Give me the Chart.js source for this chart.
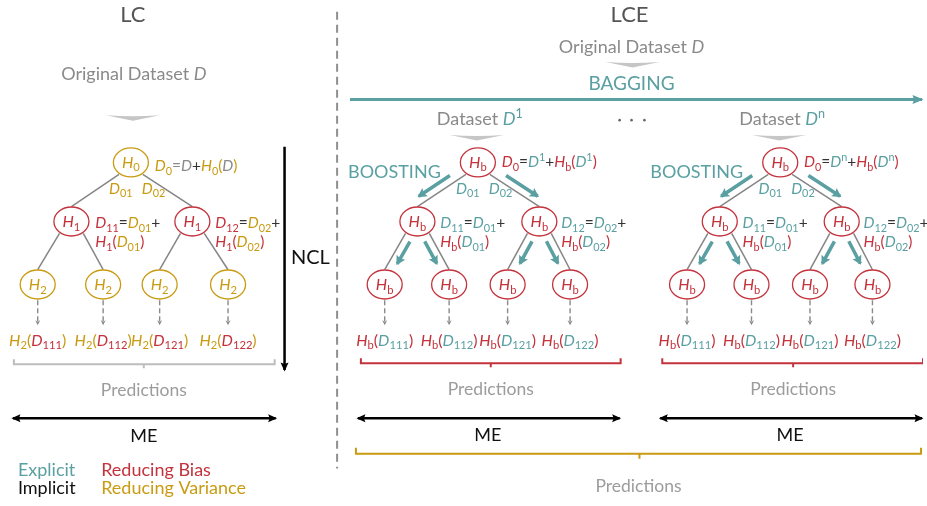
<!DOCTYPE html>
<html>
<head>
<meta charset="utf-8">
<title>LC vs LCE</title>
<script src="https://cdn.jsdelivr.net/npm/chart.js@4.4.0/dist/chart.umd.min.js"></script>
<style>
  html, body { margin: 0; padding: 0; background: #fff; }
  #myChart { display: block; }
</style>
</head>
<body>
<canvas id="myChart" width="927" height="506"></canvas>
<script>
// colours
var TEAL = "#5a9fa1", RED = "#c4323c", GOLD = "#c99b12", GREY = "#8a8a8a", LIGHT = "#9c9c9c", DARK = "#333";
var FONT = "Lato, 'Open Sans', sans-serif";
var MATH = 15.5; // math label size

// tree shape (same for every tree)
var parentOf = [-1, 0, 0, 1, 1, 2, 2];
var levelOf = [0, 1, 1, 2, 2, 2, 2];
var levelY = [161, 221, 285];

// node x positions
var lcNodeX = [128, 68, 190, 34, 100, 157, 226];
var lceNodeX = [478, 417, 540, 384, 449, 508, 571];
var lceShift = [0, 305];

// node names / labels
var lcNodeNames = ["H_0", "H_1", "H_1", "H_2", "H_2", "H_2", "H_2"];
var lcNodeColors = [GOLD, RED, RED, GOLD, GOLD, GOLD, GOLD];
var lceNodeName = "H_b";
var leafSubs = ["111", "112", "121", "122"];
var datasetSups = ["1", "n"];

var datasets = [];
var texts = [];
var chevrons = [];

function addLine(points, color, width, extra) {
  datasets.push(Object.assign({
    data: points, showLine: true, borderColor: color, borderWidth: width,
    pointRadius: 0, fill: false, tension: 0
  }, extra || {}));
}
function addText(x, y, size, align, parts) {
  texts.push({ x: x, y: y, size: size, align: align, parts: parts });
}
function pt(x, y) { return { x: x, y: y }; }

// edges between a parent bottom and a child top
function edgeOf(nodeX, k) {
  var p = parentOf[k];
  var dir = nodeX[k] < nodeX[p] ? -1 : 1;
  return [pt(nodeX[p] + dir * 12, levelY[levelOf[p]] + 12), pt(nodeX[k], levelY[levelOf[k]] - 15)];
}

function addTree(nodeX, names, colors, edgeColor) {
  for (var k = 1; k < nodeX.length; k++) {
    addLine(edgeOf(nodeX, k), edgeColor, 1.5);
  }
  // dashed arrows leaf -> prediction
  for (var k = 3; k < nodeX.length; k++) {
    addLine([pt(nodeX[k], 301), pt(nodeX[k], 325)], GREY, 1.4,
      { borderDash: [5, 3], arrow: "end", headLen: 5, headW: 5 });
  }
  datasets.push({
    data: nodeX.map(function (x, k) { return pt(x, levelY[levelOf[k]]); }),
    pointRadius: 0, showLine: false, nodeNames: names, nodeColors: colors
  });
}

// ---------- separator ----------
addLine([pt(336, 8), pt(336, 472)], "#8f8f8f", 2, { borderDash: [8, 5] });

// ---------- LC ----------
addText(130, 18, 22, "center", [["#555", "LC", 1]]);
addText(131, 77, 18, "center", [[GREY, "Original Dataset ", 1], [GREY, "D"]]);
chevrons.push(pt(130, 113));
addTree(lcNodeX, lcNodeNames, lcNodeColors, "#858585");
addText(152, 170, MATH, "left", [[GOLD, "D_0"], [GREY, "=D"], [DARK, "+"], [GOLD, "H_0("], [GREY, "D"], [GOLD, ")"]]);
addText(106, 193, MATH, "left", [[GOLD, "D_{01}"]]);
addText(139, 193, MATH, "left", [[GOLD, "D_{02}"]]);
addText(92, 228, MATH, "left", [[RED, "D_{11}"], [DARK, "="], [GOLD, "D_{01}"], [DARK, "+"]]);
addText(92, 247, MATH, "left", [[RED, "H_1("], [GOLD, "D_{01}"], [RED, ")"]]);
addText(213, 228, MATH, "left", [[RED, "D_{12}"], [DARK, "="], [GOLD, "D_{02}"], [DARK, "+"]]);
addText(213, 247, MATH, "left", [[RED, "H_1("], [GOLD, "D_{02}"], [RED, ")"]]);
leafSubs.forEach(function (s, i) {
  addText(lcNodeX[3 + i], 347, 16, "center", [[GOLD, "H_2("], [RED, "D_{" + s + "}"], [GOLD, ")"]]);
});
addLine([pt(10, 361), pt(10, 366), pt(141, 366), pt(141, 370), pt(141, 366), pt(273, 366), pt(273, 361)], "#bdbdbd", 2);
addText(141, 398, 17.5, "center", [[LIGHT, "Predictions", 1]]);
addLine([pt(9, 421), pt(274, 421)], "#000", 2.5, { arrow: "both", headLen: 9, headW: 8 });
addText(141, 445, 18, "center", [["#111", "ME", 1]]);
addLine([pt(283, 145), pt(283, 372)], "#000", 2.5, { arrow: "end", headLen: 9, headW: 8 });
addText(309, 264, 20, "center", [["#111", "NCL", 1]]);
// legend
addText(14, 480, 18, "left", [[TEAL, "Explicit", 1]]);
addText(98, 480, 18, "left", [[RED, "Reducing Bias", 1]]);
addText(14, 498, 18, "left", [["#111", "Implicit", 1]]);
addText(98, 498, 18, "left", [[GOLD, "Reducing Variance", 1]]);

// ---------- LCE ----------
addText(631, 18, 22, "center", [["#555", "LCE", 1]]);
addText(633, 50, 18, "center", [[GREY, "Original Dataset ", 1], [GREY, "D"]]);
chevrons.push(pt(634, 59));
addText(633, 87, 19, "center", [[TEAL, "BAGGING", 1]]);
addLine([pt(349, 97), pt(926, 97)], TEAL, 3, { arrow: "end", headLen: 11, headW: 9 });
datasets.push({
  data: [pt(621, 118), pt(633, 118), pt(646, 118)],
  pointRadius: 1.3, pointBackgroundColor: "#666", pointBorderWidth: 0, showLine: false
});

lceShift.forEach(function (s, t) {
  var nx = lceNodeX.map(function (x) { return x + s; });
  var sup = datasetSups[t];
  addText(480 + s, 123, 18, "center", [[GREY, "Dataset ", 1], [TEAL, "D^" + sup]]);
  chevrons.push(pt(477 + s, 133));
  addText(347 + s, 177, 18, "left", [[TEAL, "BOOSTING", 1]]);
  addTree(nx, nx.map(function () { return lceNodeName; }), nx.map(function () { return RED; }), "#858585");

  // boosting arrows, parallel to the edges
  for (var k = 1; k < nx.length; k++) {
    var e = edgeOf(nx, k);
    var dx = e[1].x - e[0].x, dy = e[1].y - e[0].y, len = Math.sqrt(dx * dx + dy * dy);
    var ux = dx / len, uy = dy / len;
    var outward = levelOf[k] === 1;
    var n = [uy, -ux];
    if ((outward && n[1] > 0) || (!outward && n[1] < 0)) n = [-uy, ux];
    var t0 = outward ? 0.24 : 0.12, t1 = outward ? 0.88 : 0.73, off = 8;
    addLine([
      pt(e[0].x + dx * t0 + n[0] * off, e[0].y + dy * t0 + n[1] * off),
      pt(e[0].x + dx * t1 + n[0] * off, e[0].y + dy * t1 + n[1] * off)
    ], TEAL, 3.5, { arrow: "end", headLen: 9, headW: 10 });
  }

  addText(502 + s, 166, MATH, "left", [[RED, "D_0"], [DARK, "="], [TEAL, "D^" + sup], [DARK, "+"], [RED, "H_b("], [TEAL, "D^" + sup], [RED, ")"]]);
  addText(456 + s, 193, MATH, "left", [[TEAL, "D_{01}"]]);
  addText(489 + s, 193, MATH, "left", [[TEAL, "D_{02}"]]);
  addText(440 + s, 228, MATH, "left", [[TEAL, "D_{11}"], [DARK, "="], [TEAL, "D_{01}"], [DARK, "+"]]);
  addText(440 + s, 247, MATH, "left", [[RED, "H_b("], [TEAL, "D_{01}"], [RED, ")"]]);
  addText(562 + s, 228, MATH, "left", [[TEAL, "D_{12}"], [DARK, "="], [TEAL, "D_{02}"], [DARK, "+"]]);
  addText(562 + s, 247, MATH, "left", [[RED, "H_b("], [TEAL, "D_{02}"], [RED, ")"]]);
  leafSubs.forEach(function (sb, i) {
    addText(nx[3 + i], 347, 16, "center", [[RED, "H_b("], [TEAL, "D_{" + sb + "}"], [RED, ")"]]);
  });
  var bl = 360 + s * (304 / 305), br = 622 + s, bm = 491 + s;
  addLine([pt(bl, 360), pt(bl, 365), pt(bm, 365), pt(bm, 369), pt(bm, 365), pt(br, 365), pt(br, 360)], RED, 2);
  addText(491 + s, 397, 17.5, "center", [[LIGHT, "Predictions", 1]]);
  addLine([pt(357 + s, 421), pt(621 + s, 421)], "#000", 2.5, { arrow: "both", headLen: 9, headW: 8 });
  addText(488 + s, 444, 18, "center", [["#111", "ME", 1]]);
});

addLine([pt(355, 451), pt(355, 457), pt(641, 457), pt(641, 462), pt(641, 457), pt(925, 457), pt(925, 451)], GOLD, 2);
addText(640, 496, 17.5, "center", [[LIGHT, "Predictions", 1]]);

// ---------- rich text ----------
function parseParts(parts, size) {
  var runs = [];
  parts.forEach(function (p) {
    var color = p[0], s = p[1];
    if (p[2]) { runs.push({ t: s, color: color, size: size, dy: 0, it: false }); return; }
    for (var i = 0; i < s.length; i++) {
      var ch = s[i];
      if (ch === "_" || ch === "^") {
        var t;
        if (s[i + 1] === "{") { var j = s.indexOf("}", i); t = s.slice(i + 2, j); i = j; }
        else { t = s[i + 1]; i++; }
        runs.push({ t: t, color: color, size: size * 0.7, dy: ch === "_" ? size * 0.22 : -size * 0.38, it: false });
      } else {
        runs.push({ t: ch, color: color, size: size, dy: 0, it: /[A-Z]/.test(ch) });
      }
    }
  });
  return runs;
}
function drawRich(c, x, y, size, align, parts) {
  var runs = parseParts(parts, size), total = 0;
  runs.forEach(function (r) {
    c.font = (r.it ? "italic " : "") + r.size + "px " + FONT;
    r.w = c.measureText(r.t).width;
    total += r.w;
  });
  var cx = align === "center" ? x - total / 2 : x;
  c.textAlign = "left";
  c.textBaseline = "alphabetic";
  runs.forEach(function (r) {
    c.font = (r.it ? "italic " : "") + r.size + "px " + FONT;
    c.fillStyle = r.color;
    c.fillText(r.t, cx, y + r.dy);
    cx += r.w;
  });
}

var diagramPlugin = {
  id: "diagram",
  afterDatasetsDraw: function (chart) {
    var c = chart.ctx, xs = chart.scales.x, ys = chart.scales.y;
    c.save();
    // arrow heads
    chart.data.datasets.forEach(function (ds, i) {
      if (!ds.arrow) return;
      var pts = chart.getDatasetMeta(i).data;
      var heads = [[pts[pts.length - 1], pts[pts.length - 2]]];
      if (ds.arrow === "both") heads.push([pts[0], pts[1]]);
      heads.forEach(function (h) {
        var tip = h[0], from = h[1];
        var dx = tip.x - from.x, dy = tip.y - from.y, len = Math.sqrt(dx * dx + dy * dy);
        var ux = dx / len, uy = dy / len;
        var tx = tip.x + ux * 1.5, ty = tip.y + uy * 1.5;
        var bx = tx - ux * ds.headLen, by = ty - uy * ds.headLen;
        c.beginPath();
        c.moveTo(tx, ty);
        c.lineTo(bx - uy * ds.headW / 2, by + ux * ds.headW / 2);
        c.lineTo(bx + ux * 1.5, by + uy * 1.5);
        c.lineTo(bx + uy * ds.headW / 2, by - ux * ds.headW / 2);
        c.closePath();
        c.fillStyle = ds.borderColor;
        c.fill();
      });
    });
    // chevrons under dataset titles
    chevrons.forEach(function (p) {
      var x = xs.getPixelForValue(p.x), y = ys.getPixelForValue(p.y);
      c.beginPath();
      c.moveTo(x - 27, y);
      c.quadraticCurveTo(x, y + 2, x + 27, y);
      c.lineTo(x, y + 5.5);
      c.closePath();
      c.fillStyle = "#c6c6c6";
      c.fill();
    });
    // tree nodes
    chart.data.datasets.forEach(function (ds, i) {
      if (!ds.nodeNames) return;
      chart.getDatasetMeta(i).data.forEach(function (el, k) {
        c.beginPath();
        c.ellipse(el.x, el.y, 17.5, 14.5, 0, 0, Math.PI * 2);
        c.fillStyle = "#fff";
        c.fill();
        c.lineWidth = 1.3;
        c.strokeStyle = ds.nodeColors[k];
        c.stroke();
        drawRich(c, el.x, el.y + 5.5, 16, "center", [[ds.nodeColors[k], ds.nodeNames[k]]]);
      });
    });
    // texts
    texts.forEach(function (t) {
      drawRich(c, xs.getPixelForValue(t.x), ys.getPixelForValue(t.y), t.size, t.align, t.parts);
    });
    c.restore();
  }
};

var ctx = document.getElementById("myChart");
var chart = new Chart(ctx, {
  type: "scatter",
  data: { datasets: datasets },
  options: {
    responsive: false,
    animation: false,
    events: [],
    layout: { padding: 0 },
    plugins: { legend: { display: false }, tooltip: { enabled: false } },
    scales: {
      x: { type: "linear", min: 0, max: 927, display: false },
      y: { type: "linear", min: 0, max: 506, reverse: true, display: false }
    }
  },
  plugins: [diagramPlugin]
});
</script>
</body>
</html>
